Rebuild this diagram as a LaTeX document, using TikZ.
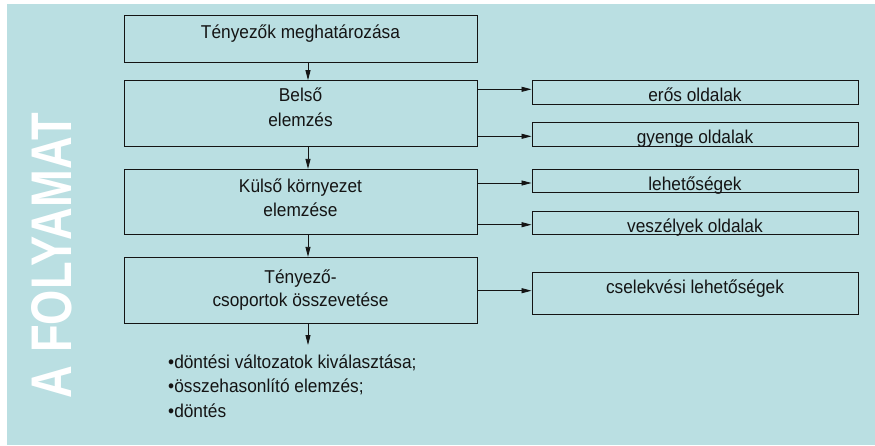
\documentclass[tikz,border=0pt]{standalone}
\usepackage{fontspec}
\setmainfont{Liberation Sans}[FakeStretch=0.93]
\newfontfamily\titlefont{Liberation Sans}
\usetikzlibrary{arrows.meta,calc}
\definecolor{bg}{RGB}{186,223,226}
\definecolor{ink}{RGB}{20,20,20}
\begin{document}
\begin{tikzpicture}[x=1pt,y=-1pt,
  font=\fontsize{18.6}{21}\selectfont,
  lbox/.style={draw=ink, line width=0.9pt, minimum width=353pt, inner sep=0pt, anchor=center},
  rbox/.style={draw=ink, line width=0.9pt, minimum width=326pt, inner sep=0pt, anchor=center},
  txt/.style={anchor=base, inner sep=0pt, text=ink},
  btxt/.style={anchor=base west, inner sep=0pt, text=ink},
  arr/.style={draw=ink, line width=0.8pt, -{Triangle[length=10pt,width=5pt]}}]
\useasboundingbox (0,0) rectangle (875,445);
\fill[white] (0,0) rectangle (875,445);
\fill[bg] (7,4) rectangle (875,445);
% title
\node[rotate=90, text=white, inner sep=0pt] (title) at (52,255.5)
  {\resizebox{285pt}{40pt}{\titlefont\bfseries A FOLYAMAT}};
% left boxes
\node[lbox, minimum height=47pt] (b1) at (300.5,38.5) {};
\node[lbox, minimum height=65.3pt] (b2) at (300.5,113.3) {};
\node[lbox, minimum height=64.7pt] (b3) at (300.5,201.7) {};
\node[lbox, minimum height=66pt] (b4) at (300.5,290.3) {};
\node[txt] (t1) at (300.5,38.3) {Tényezők meghatározása};
\node[txt] (t2a) at (300.5,101.7) {Belső};
\node[txt] (t2b) at (300.5,126.7) {elemzés};
\node[txt] (t3a) at (300.5,192.7) {Külső környezet};
\node[txt] (t3b) at (300.5,216.7) {elemzése};
\node[txt] (t4a) at (300.5,283) {Tényező-};
\node[txt] (t4b) at (300.5,306) {csoportok összevetése};
% right boxes
\node[rbox, minimum height=23.3pt] (r1) at (695,92.3) {};
\node[rbox, minimum height=23.7pt] (r2) at (695,134.2) {};
\node[rbox, minimum height=23.4pt] (r3) at (695,181) {};
\node[rbox, minimum height=23pt] (r4) at (695,223.2) {};
\node[rbox, minimum height=42pt] (r5) at (695,293) {};
\node[txt] (s1) at (695,101.7) {erős oldalak};
\node[txt] (s2) at (695,143.3) {gyenge oldalak};
\node[txt] (s3) at (695,190) {lehetőségek};
\node[txt] (s4) at (695,232.3) {veszélyek oldalak};
\node[txt] (s5) at (695,293.3) {cselekvési lehetőségek};
% bullets
\node[btxt] (u1) at (168,368.3) {\textbullet döntési változatok kiválasztása;};
\node[btxt] (u2) at (168,392.3) {\textbullet összehasonlító elemzés;};
\node[btxt] (u3) at (168,417.3) {\textbullet döntés};
% vertical arrows
\coordinate (ax) at (308,0);
\coordinate (e) at (308,345);
\draw[arr] (b1.south -| ax) -- (b2.north -| ax);
\draw[arr] (b2.south -| ax) -- (b3.north -| ax);
\draw[arr] (b3.south -| ax) -- (b4.north -| ax);
\draw[arr] (b4.south -| ax) -- (e);
% horizontal arrows
\draw[arr] (b2.east |- 0,89.3) -- (r1.west |- 0,89.3);
\draw[arr] (b2.east |- 0,136.3) -- (r2.west |- 0,136.3);
\draw[arr] (b3.east |- 0,183) -- (r3.west |- 0,183);
\draw[arr] (b3.east |- 0,224.7) -- (r4.west |- 0,224.7);
\draw[arr] (b4.east |- 0,290.7) -- (r5.west |- 0,290.7);
\end{tikzpicture}
\end{document}
